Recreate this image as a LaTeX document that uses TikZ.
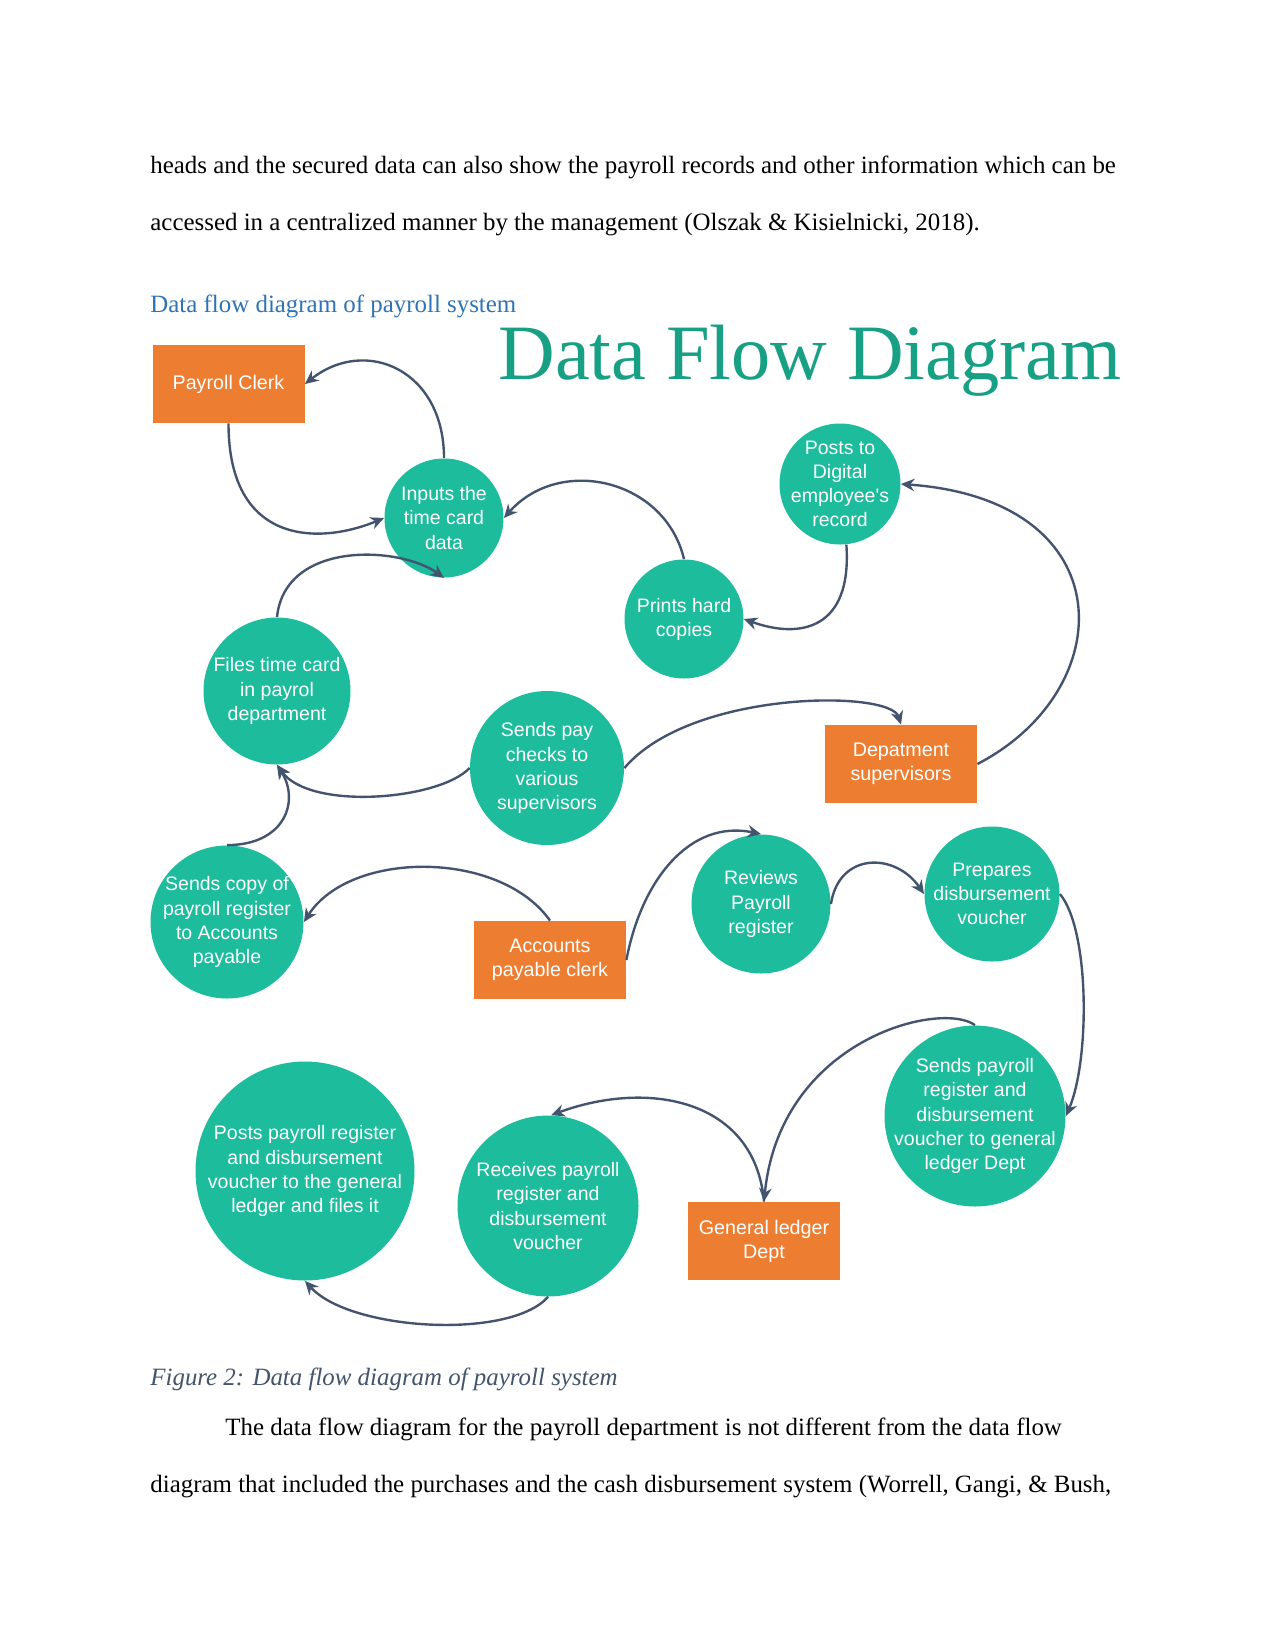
\documentclass[tikz,border=0pt]{standalone}
\usepackage{fontspec}
\setmainfont{Liberation Serif}
\newfontfamily\bubblefont{Liberation Sans}
\usetikzlibrary{arrows.meta, positioning}

\definecolor{procteal}{RGB}{28,188,156}
\definecolor{boxorange}{RGB}{237,125,49}
\definecolor{flowblue}{RGB}{68,84,110}
\definecolor{titlegreen}{RGB}{24,160,132}
\definecolor{headblue}{RGB}{46,116,181}
\definecolor{capgray}{RGB}{68,84,106}

\def\pxl{0.16933mm} % one pixel of the page at 150 dpi

\begin{document}
\begin{tikzpicture}[
    x=0.16933mm, y=-0.16933mm, % work in page pixels, y downwards
    >={Stealth[length=6.5pt,width=6pt]}, % Set default arrow tip style
    process/.style={circle, fill=procteal, text=white, inner sep=-6pt, align=center,
        minimum size=#1*\pxl, font=\bubblefont\fontsize{9.4}{11.6}\selectfont}, % process bubbles
    entity/.style={rectangle, fill=boxorange, text=white, inner sep=0pt, align=center,
        minimum width=152*\pxl, minimum height=78*\pxl,
        font=\bubblefont\fontsize{9.5}{11.6}\selectfont}, % external entities
    flow/.style={->, flowblue, line width=1.15pt}, % data flows
    body/.style={anchor=base west, inner sep=0pt, font=\fontsize{12}{14}\selectfont} % page text
]

    % Page
    \fill[white] (0,0) rectangle (1275,1651);
    \useasboundingbox (0,0) rectangle (1275,1651);

    % Text above the figure
    \node[body] (para1) at (150,173) {heads and the secured data can also show the payroll records and other information which can be};
    \node[body] (para2) at (150,230) {accessed in a centralized manner by the management (Olszak \& Kisielnicki, 2018).};
    \node[body, text=headblue] (heading) at (150,312) {Data flow diagram of payroll system};

    % Title of the diagram
    \node[anchor=base west, inner sep=0pt, text=titlegreen, font=\fontsize{37.8}{40}\selectfont] (title) at (498,379) {Data Flow Diagram};

    % External entities
    \node[entity] (clerk) at (228.5,384) {Payroll Clerk};
    \node[entity] (dept) at (901,764) {Depatment\\supervisors};
    \node[entity] (accounts) at (550,960) {Accounts\\payable clerk};
    \node[entity] (ledger) at (764,1241) {General ledger\\Dept};

    % Processes
    \node[process=119] (inputs) at (444,518) {Inputs the\\time card\\data};
    \node[process=121] (postsdig) at (840,484) {Posts to\\Digital\\employee's\\record};
    \node[process=119] (prints) at (684,619) {Prints hard\\copies};
    \node[process=147] (files) at (277,691) {Files time card\\in payrol\\department};
    \node[process=154] (sendspay) at (547,768) {Sends pay\\checks to\\various\\supervisors};
    \node[process=153] (sendcopy) at (227,922) {Sends copy of\\payroll register\\to Accounts\\payable};
    \node[process=139] (reviews) at (761,904) {Reviews\\Payroll\\register};
    \node[process=135] (prepares) at (992,894) {Prepares\\disbursement\\voucher};
    \node[process=181] (sendsreg) at (975,1116) {Sends payroll\\register and\\disbursement\\voucher to general\\ledger Dept};
    \node[process=181] (receives) at (548,1206) {Receives payroll\\register and\\disbursement\\voucher};
    \node[process=219] (postsreg) at (305,1171) {Posts payroll register\\and disbursement\\voucher to the general\\ledger and files it};

    % Data flows
    \draw[flow] (inputs.north) .. controls +(0,-88) and +(61,-48) .. (clerk.east);
    \draw[flow] (clerk.south) .. controls +(0,122) and +(-65,27) .. (inputs.west);
    \draw[flow] (prints.north) .. controls +(-19,-80) and +(56,-63) .. (inputs.east);
    \draw[flow] (postsdig.-84) .. controls +(6,86) and +(55,20) .. (prints.east);
    \draw[flow] (dept.east) .. controls +(143,-74) and +(224,16) .. (postsdig.east);
    \draw[flow] (files.north) .. controls +(8,-77) and +(-44,-32) .. (inputs.south);
    \draw[flow] (sendspay.west) .. controls +(-30,32) and +(33,46) .. (files.south);
    \draw[flow] (sendcopy.north) .. controls +(58,0) and +(23,36) .. (files.south);
    \draw[flow] (sendspay.east) .. controls +(66,-78) and +(-11,-35) .. (dept.north);
    \draw[flow] (accounts.north) .. controls +(-50,-71) and +(46,-72) .. (sendcopy.east);
    \draw[flow] (accounts.east) .. controls +(15,-80) and +(-71,-15) .. (reviews.north);
    \draw[flow] (reviews.east) .. controls +(8,-52) and +(-29,-42) .. (prepares.west);
    \draw[flow] (prepares.east) .. controls +(30,36) and +(24,-56) .. (sendsreg.east);
    \draw[flow] (sendsreg.north) .. controls +(-35,-25) and +(16,-162) .. (ledger.north);
    \draw[flow] (ledger.north) .. controls +(-9,-102) and +(98,-36) .. (receives.88);
    \draw[flow] (receives.south) .. controls +(-38,43) and +(45,50) .. (postsreg.south);

    % Caption and text below the figure
    \node[body, text=capgray, font=\fontsize{12}{14}\selectfont\itshape] (caption) at (150,1385) {Figure 2: Data flow diagram of payroll system};
    \node[body] (para3) at (225,1435) {The data flow diagram for the payroll department is not different from the data flow};
    \node[body] (para4) at (150,1492) {diagram that included the purchases and the cash disbursement system (Worrell, Gangi, \& Bush,};

\end{tikzpicture}
\end{document}
